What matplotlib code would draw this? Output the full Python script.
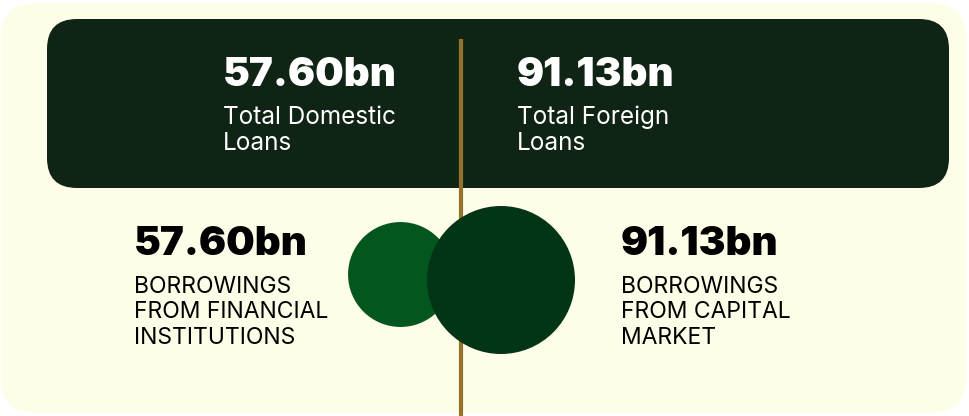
import matplotlib.pyplot as plt
from matplotlib.patches import FancyBboxPatch, Circle

# data
totals = ["57.60bn", "91.13bn"]
total_labels = ["Total Domestic\nLoans", "Total Foreign\nLoans"]
values = [57.60, 91.13]
value_labels = ["57.60bn", "91.13bn"]
borrow_labels = ["BORROWINGS\nFROM FINANCIAL\nINSTITUTIONS", "BORROWINGS\nFROM CAPITAL\nMARKET"]

cream = "#FEFDE8"
dark = "#0F2415"
gold = "#947229"
circle_colors = ["#04561F", "#023516"]
font = ["Inter", "DejaVu Sans"]

fig = plt.figure(figsize=(9.69, 4.16), dpi=100)
fig.patch.set_facecolor("white")
ax = fig.add_axes([0, 0, 1, 1])
ax.set_xlim(0, 969)
ax.set_ylim(416, 0)
ax.set_aspect("equal")
ax.axis("off")

# background panels
ax.add_patch(FancyBboxPatch((1, 3), 965, 410, boxstyle="round,pad=0,rounding_size=35",
                            fc=cream, ec="none", zorder=0))
ax.add_patch(FancyBboxPatch((47, 19), 902, 169, boxstyle="round,pad=0,rounding_size=30",
                            fc=dark, ec="none", zorder=1))

# divider
ax.plot([461, 461], [39, 416], color=gold, lw=3, solid_capstyle="butt", zorder=2)

# bubbles, sized from the values
rmax = 74
centers = [(400.5, 274.5), (501, 280)]
for v, (cx, cy), c in zip(values, centers, circle_colors):
    r = rmax * (v / max(values)) ** 0.75
    ax.add_patch(Circle((cx, cy), r, fc=c, ec="none", zorder=3))

# top labels
for x, num, lab in zip([223, 517], totals, total_labels):
    ax.text(x, 86, num, color="white", fontsize=29, fontweight="black",
            family=font, va="baseline", ha="left", zorder=4)
    for i, line in enumerate(lab.split("\n")):
        ax.text(x, 124 + i * 25.5, line, color="white", fontsize=17.5,
                family=font, va="baseline", ha="left", zorder=4)

# bottom labels
for x, num, lab in zip([134, 621], value_labels, borrow_labels):
    ax.text(x, 255, num, color="black", fontsize=29, fontweight="black",
            family=font, va="baseline", ha="left", zorder=4)
    for i, line in enumerate(lab.split("\n")):
        ax.text(x, 293 + i * 25.5, line, color="black", fontsize=16.5,
                family=font, va="baseline", ha="left", zorder=4)

fig.savefig("out.png", dpi=100, facecolor="white")
